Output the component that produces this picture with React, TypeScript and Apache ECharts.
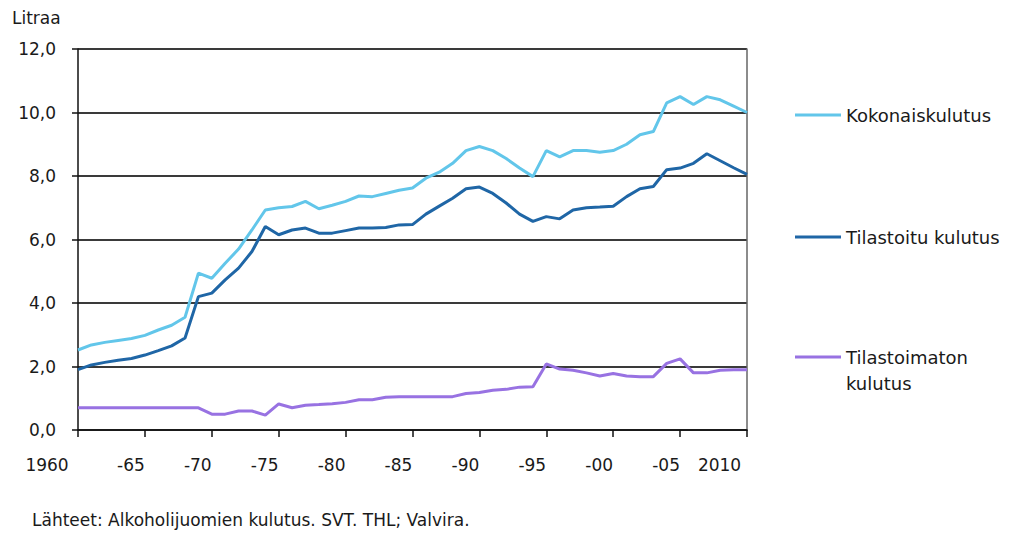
import { useEffect, useRef } from "react";
import * as echarts from "echarts";

const years = [
  1960, 1961, 1962, 1963, 1964, 1965, 1966, 1967, 1968, 1969,
  1970, 1971, 1972, 1973, 1974, 1975, 1976, 1977, 1978, 1979,
  1980, 1981, 1982, 1983, 1984, 1985, 1986, 1987, 1988, 1989,
  1990, 1991, 1992, 1993, 1994, 1995, 1996, 1997, 1998, 1999,
  2000, 2001, 2002, 2003, 2004, 2005, 2006, 2007, 2008, 2009, 2010,
];

const kokonaiskulutus = [
  2.52, 2.68, 2.76, 2.82, 2.88, 2.98, 3.15, 3.3, 3.55, 4.94,
  4.78, 5.25, 5.7, 6.3, 6.93, 7.0, 7.04, 7.2, 6.97, 7.08,
  7.2, 7.37, 7.35, 7.45, 7.55, 7.62, 7.93, 8.12, 8.4, 8.8,
  8.93, 8.8, 8.55, 8.25, 7.98, 8.8, 8.6, 8.8, 8.8, 8.75,
  8.8, 9.0, 9.3, 9.4, 10.3, 10.5, 10.25, 10.5, 10.4, 10.2, 10.0,
];

const tilastoituKulutus = [
  1.9, 2.05, 2.13, 2.2, 2.25, 2.36, 2.5, 2.65, 2.9, 4.2,
  4.31, 4.73, 5.1, 5.62, 6.41, 6.15, 6.3, 6.36, 6.2, 6.2,
  6.28, 6.36, 6.36, 6.38, 6.46, 6.47, 6.8, 7.05, 7.3, 7.6,
  7.65, 7.45, 7.15, 6.8, 6.57, 6.72, 6.65, 6.93, 7.0, 7.02,
  7.05, 7.35, 7.6, 7.67, 8.2, 8.25, 8.4, 8.7, 8.48, 8.26, 8.05,
];

const tilastoimatonKulutus = [
  0.7, 0.7, 0.7, 0.7, 0.7, 0.7, 0.7, 0.7, 0.7, 0.7,
  0.5, 0.5, 0.6, 0.6, 0.47, 0.82, 0.7, 0.78, 0.8, 0.83,
  0.87, 0.95, 0.95, 1.03, 1.05, 1.05, 1.05, 1.05, 1.05, 1.15,
  1.18, 1.25, 1.28, 1.35, 1.36, 2.08, 1.92, 1.88, 1.8, 1.7,
  1.78, 1.7, 1.68, 1.68, 2.1, 2.24, 1.8, 1.8, 1.88, 1.9, 1.9,
];

const xTickLabels: Record<number, string> = {
  1960: "1960", 1965: "-65", 1970: "-70", 1975: "-75", 1980: "-80",
  1985: "-85", 1990: "-90", 1995: "-95", 2000: "-00", 2005: "-05", 2010: "2010",
};

const seriesNames = ["Kokonaiskulutus", "Tilastoitu kulutus", "Tilastoimaton kulutus"];
const seriesColors = ["#62C6EA", "#1F66A6", "#9872E2"];

const titleText = "Litraa";
const sourceText = "Lähteet: Alkoholijuomien kulutus. SVT. THL; Valvira.";

const FONT = "'DejaVu Sans', 'Liberation Sans', Arial, sans-serif";
const TEXT_COLOR = "#1a1a1a";

export default function App() {
  const ref = useRef<HTMLDivElement>(null);

  useEffect(() => {
    if (!ref.current) return;
    const chart = echarts.init(ref.current, undefined, { renderer: "svg" });

    const toPairs = (vals: number[]) => years.map((y, i) => [y, vals[i]]);
    const values = [kokonaiskulutus, tilastoituKulutus, tilastoimatonKulutus];

    const richBase = { fontSize: 17, fontFamily: FONT, color: TEXT_COLOR };
    const legendText = { fontSize: 18, fontFamily: FONT, color: TEXT_COLOR, lineHeight: 20 };
    const legendCommon = {
      orient: "vertical" as const,
      left: 795,
      padding: 0,
      icon: "rect",
      itemWidth: 46,
      itemHeight: 3,
      selectedMode: false,
    };

    chart.setOption({
      animation: false,
      backgroundColor: "#ffffff",
      title: [
        {
          text: titleText,
          left: 12,
          top: 9,
          padding: 0,
          textStyle: { fontSize: 17, fontWeight: "normal", fontFamily: FONT, color: TEXT_COLOR },
        },
        {
          text: sourceText,
          left: 32,
          top: 511,
          padding: 0,
          textStyle: { fontSize: 17, fontWeight: "normal", fontFamily: FONT, color: TEXT_COLOR },
        },
      ],
      legend: [
        {
          ...legendCommon,
          top: 105,
          data: [seriesNames[0]],
          textStyle: legendText,
        },
        {
          ...legendCommon,
          top: 227,
          data: [seriesNames[1]],
          textStyle: legendText,
        },
        {
          ...legendCommon,
          top: 318,
          data: [seriesNames[2]],
          formatter: () => "\nTilastoimaton\nkulutus",
          textStyle: { ...legendText, lineHeight: 26 },
        },
      ],
      grid: { left: 78, right: 274, top: 49, bottom: 105, containLabel: false },
      xAxis: {
        type: "value",
        min: 1960,
        max: 2010,
        interval: 5,
        axisLine: { show: true, lineStyle: { color: "#111", width: 1.5 } },
        axisTick: { show: true, length: 7, lineStyle: { color: "#111", width: 1.5 } },
        splitLine: { show: false },
        axisLabel: {
          show: true,
          margin: 26,
          showMinLabel: true,
          showMaxLabel: true,
          formatter: (v: number) => {
            const t = xTickLabels[v] ?? "";
            if (v === 1960) return "{first|" + t + "}";
            if (v === 2010) return "{last|" + t + "}";
            return "{mid|" + t + "}";
          },
          rich: {
            first: { ...richBase, padding: [0, 62, 0, 0] },
            mid: { ...richBase, padding: [0, 28, 0, 0] },
            last: { ...richBase, padding: [0, 55, 0, 0] },
          },
        },
      },
      yAxis: [
        {
          type: "value",
          min: 0,
          max: 12,
          interval: 2,
          axisLine: { show: true, lineStyle: { color: "#111", width: 1.5 } },
          axisTick: { show: true, length: 6, lineStyle: { color: "#111", width: 1.5 } },
          splitLine: { show: true, lineStyle: { color: "#3a3a3a", width: 2 } },
          axisLabel: {
            margin: 22,
            fontSize: 17,
            fontFamily: FONT,
            color: TEXT_COLOR,
            formatter: (v: number) => v.toFixed(1).replace(".", ","),
          },
        },
        {
          type: "value",
          position: "right",
          min: 0,
          max: 12,
          interval: 2,
          axisLine: { show: true, lineStyle: { color: "#666", width: 1.5 } },
          axisTick: { show: false },
          axisLabel: { show: false },
          splitLine: { show: false },
        },
      ],
      series: seriesNames.map((name, i) => ({
        name,
        type: "line",
        data: toPairs(values[i]),
        symbol: "none",
        showSymbol: false,
        color: seriesColors[i],
        lineStyle: { color: seriesColors[i], width: 3 },
        z: 3 - i,
      })),
    });

    return () => chart.dispose();
  }, []);

  return (
    <div
      ref={ref}
      style={{ position: "fixed", left: 0, top: 0, width: 1021, height: 535, background: "#fff" }}
    />
  );
}
